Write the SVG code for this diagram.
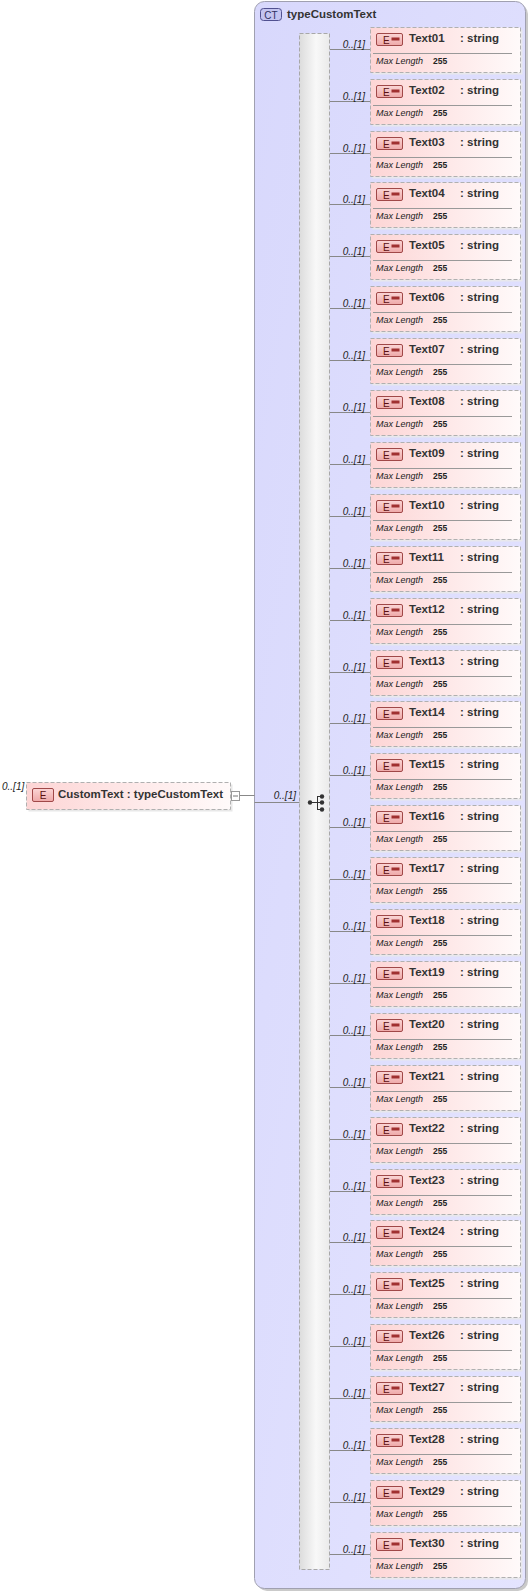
<svg xmlns="http://www.w3.org/2000/svg" width="532" height="1592" viewBox="0 0 532 1592">
<defs>
<linearGradient id="elG" x1="0" y1="0" x2="1" y2="0"><stop offset="0" stop-color="#fdd5d5"/><stop offset="1" stop-color="#fffafa"/></linearGradient>
<linearGradient id="bdG" x1="0" y1="0" x2="0" y2="1"><stop offset="0" stop-color="#fbd6d6"/><stop offset="1" stop-color="#eea8a8"/></linearGradient>
<linearGradient id="seqG" x1="0" y1="0" x2="1" y2="0"><stop offset="0" stop-color="#dcdcdc"/><stop offset="0.55" stop-color="#f8f8f8"/><stop offset="1" stop-color="#eaeaea"/></linearGradient>
<linearGradient id="ctG" x1="0" y1="0" x2="1" y2="1"><stop offset="0" stop-color="#d8d8fc"/><stop offset="1" stop-color="#e4e4ff"/></linearGradient>
<g id="el">
<rect x="2.5" y="2.5" width="150" height="45" fill="#e8e8ec"/>
<rect class="box" x="0.5" y="0.5" width="150" height="45"/>
<rect class="badge" x="6.5" y="6.5" width="26" height="12" rx="1.5"/>
<text class="e" x="13" y="16.5">E</text>
<rect x="21.5" y="10.5" width="8" height="3" fill="#a03030"/>
<line x1="3" y1="26.5" x2="142" y2="26.5" stroke="#999" stroke-width="1"/>
<text class="ml" x="6" y="37">Max Length</text>
<text class="v" x="63" y="37">255</text>
<line x1="-40" y1="22.5" x2="0" y2="22.5" class="conn"/>
<text class="occ" x="-5" y="20.5" text-anchor="end">0..[1]</text>
</g>
</defs>
<style>
.box{fill:url(#elG);stroke:#b0b0b0;stroke-width:1;stroke-dasharray:4,2}
.badge{fill:url(#bdG);stroke:#a04848;stroke-width:1}
.e{font-family:"Liberation Sans",Arial,sans-serif;font-size:10px;fill:#5a1010}
.nm{font-family:"Liberation Sans",Arial,sans-serif;font-size:11.5px;font-weight:bold;fill:#333}
.ml{font-family:"Liberation Sans",Arial,sans-serif;font-size:9px;font-style:italic;fill:#222}
.v{font-family:"Liberation Sans",Arial,sans-serif;font-size:8.5px;font-weight:bold;fill:#222}
.occ{font-family:"Liberation Sans",Arial,sans-serif;font-size:10px;font-style:italic;fill:#222}
.conn{stroke:#888;stroke-width:1;fill:none}
</style>
<g id="container">
<rect x="257" y="4" width="271" height="1587" rx="10" fill="#cacaca"/>
<rect x="254.5" y="1.5" width="271" height="1587" rx="10" fill="url(#ctG)" stroke="#a0a0b0" stroke-width="1"/>
<rect x="260.5" y="8.5" width="21" height="12" rx="3" fill="#c4c4f0" stroke="#505090" stroke-width="1"/>
<text x="271" y="18.5" text-anchor="middle" style="font-family:'Liberation Sans',Arial,sans-serif;font-size:10px;fill:#303060">CT</text>
<text class="nm" x="287" y="17.5">typeCustomText</text>
</g>
<g id="sequence">
<rect x="299.5" y="33.5" width="30" height="1536" fill="url(#seqG)" stroke="#a8a8a8" stroke-dasharray="4,2"/>
<g fill="#333" stroke="#333" stroke-width="1">
<line x1="310" y1="802.5" x2="317" y2="802.5"/>
<line x1="317.5" y1="796" x2="317.5" y2="809"/>
<line x1="317" y1="796.5" x2="322" y2="796.5"/>
<line x1="317" y1="802.5" x2="322" y2="802.5"/>
<line x1="317" y1="809.5" x2="322" y2="809.5"/>
<circle cx="310" cy="802.5" r="2.2" stroke="none"/>
<circle cx="322" cy="796.5" r="2.2" stroke="none"/>
<circle cx="322" cy="802.5" r="2.2" stroke="none"/>
<circle cx="322" cy="809.5" r="2.2" stroke="none"/>
</g>
</g>
<g id="connectors">
<line class="conn" x1="239.5" y1="795.5" x2="254.5" y2="795.5"/>
<line class="conn" x1="254.5" y1="802.5" x2="299.5" y2="802.5"/>
<text class="occ" x="296" y="799" text-anchor="end">0..[1]</text>
</g>
<g id="CustomText">
<text class="occ" x="2" y="790">0..[1]</text>
<rect x="28.5" y="784.5" width="204" height="27" fill="#e8e8e8"/>
<rect class="box" x="26.5" y="782.5" width="204" height="27"/>
<rect class="badge" x="32.5" y="788.5" width="21" height="13" rx="1.5"/>
<text class="e" x="43" y="799" text-anchor="middle">E</text>
<text class="nm" x="58" y="797.5">CustomText : typeCustomText</text>
<rect x="231.5" y="791.5" width="8" height="9" fill="#fff" stroke="#999"/>
<line x1="233" y1="796" x2="238" y2="796" stroke="#777"/>
</g>
<g id="Text01" transform="translate(370,27)"><use href="#el"/><text class="nm" x="39" y="15">Text01</text><text class="nm" x="90" y="15">: string</text></g>
<g id="Text02" transform="translate(370,79)"><use href="#el"/><text class="nm" x="39" y="15">Text02</text><text class="nm" x="90" y="15">: string</text></g>
<g id="Text03" transform="translate(370,131)"><use href="#el"/><text class="nm" x="39" y="15">Text03</text><text class="nm" x="90" y="15">: string</text></g>
<g id="Text04" transform="translate(370,182)"><use href="#el"/><text class="nm" x="39" y="15">Text04</text><text class="nm" x="90" y="15">: string</text></g>
<g id="Text05" transform="translate(370,234)"><use href="#el"/><text class="nm" x="39" y="15">Text05</text><text class="nm" x="90" y="15">: string</text></g>
<g id="Text06" transform="translate(370,286)"><use href="#el"/><text class="nm" x="39" y="15">Text06</text><text class="nm" x="90" y="15">: string</text></g>
<g id="Text07" transform="translate(370,338)"><use href="#el"/><text class="nm" x="39" y="15">Text07</text><text class="nm" x="90" y="15">: string</text></g>
<g id="Text08" transform="translate(370,390)"><use href="#el"/><text class="nm" x="39" y="15">Text08</text><text class="nm" x="90" y="15">: string</text></g>
<g id="Text09" transform="translate(370,442)"><use href="#el"/><text class="nm" x="39" y="15">Text09</text><text class="nm" x="90" y="15">: string</text></g>
<g id="Text10" transform="translate(370,494)"><use href="#el"/><text class="nm" x="39" y="15">Text10</text><text class="nm" x="90" y="15">: string</text></g>
<g id="Text11" transform="translate(370,546)"><use href="#el"/><text class="nm" x="39" y="15">Text11</text><text class="nm" x="90" y="15">: string</text></g>
<g id="Text12" transform="translate(370,598)"><use href="#el"/><text class="nm" x="39" y="15">Text12</text><text class="nm" x="90" y="15">: string</text></g>
<g id="Text13" transform="translate(370,650)"><use href="#el"/><text class="nm" x="39" y="15">Text13</text><text class="nm" x="90" y="15">: string</text></g>
<g id="Text14" transform="translate(370,701)"><use href="#el"/><text class="nm" x="39" y="15">Text14</text><text class="nm" x="90" y="15">: string</text></g>
<g id="Text15" transform="translate(370,753)"><use href="#el"/><text class="nm" x="39" y="15">Text15</text><text class="nm" x="90" y="15">: string</text></g>
<g id="Text16" transform="translate(370,805)"><use href="#el"/><text class="nm" x="39" y="15">Text16</text><text class="nm" x="90" y="15">: string</text></g>
<g id="Text17" transform="translate(370,857)"><use href="#el"/><text class="nm" x="39" y="15">Text17</text><text class="nm" x="90" y="15">: string</text></g>
<g id="Text18" transform="translate(370,909)"><use href="#el"/><text class="nm" x="39" y="15">Text18</text><text class="nm" x="90" y="15">: string</text></g>
<g id="Text19" transform="translate(370,961)"><use href="#el"/><text class="nm" x="39" y="15">Text19</text><text class="nm" x="90" y="15">: string</text></g>
<g id="Text20" transform="translate(370,1013)"><use href="#el"/><text class="nm" x="39" y="15">Text20</text><text class="nm" x="90" y="15">: string</text></g>
<g id="Text21" transform="translate(370,1065)"><use href="#el"/><text class="nm" x="39" y="15">Text21</text><text class="nm" x="90" y="15">: string</text></g>
<g id="Text22" transform="translate(370,1117)"><use href="#el"/><text class="nm" x="39" y="15">Text22</text><text class="nm" x="90" y="15">: string</text></g>
<g id="Text23" transform="translate(370,1169)"><use href="#el"/><text class="nm" x="39" y="15">Text23</text><text class="nm" x="90" y="15">: string</text></g>
<g id="Text24" transform="translate(370,1220)"><use href="#el"/><text class="nm" x="39" y="15">Text24</text><text class="nm" x="90" y="15">: string</text></g>
<g id="Text25" transform="translate(370,1272)"><use href="#el"/><text class="nm" x="39" y="15">Text25</text><text class="nm" x="90" y="15">: string</text></g>
<g id="Text26" transform="translate(370,1324)"><use href="#el"/><text class="nm" x="39" y="15">Text26</text><text class="nm" x="90" y="15">: string</text></g>
<g id="Text27" transform="translate(370,1376)"><use href="#el"/><text class="nm" x="39" y="15">Text27</text><text class="nm" x="90" y="15">: string</text></g>
<g id="Text28" transform="translate(370,1428)"><use href="#el"/><text class="nm" x="39" y="15">Text28</text><text class="nm" x="90" y="15">: string</text></g>
<g id="Text29" transform="translate(370,1480)"><use href="#el"/><text class="nm" x="39" y="15">Text29</text><text class="nm" x="90" y="15">: string</text></g>
<g id="Text30" transform="translate(370,1532)"><use href="#el"/><text class="nm" x="39" y="15">Text30</text><text class="nm" x="90" y="15">: string</text></g>
</svg>
